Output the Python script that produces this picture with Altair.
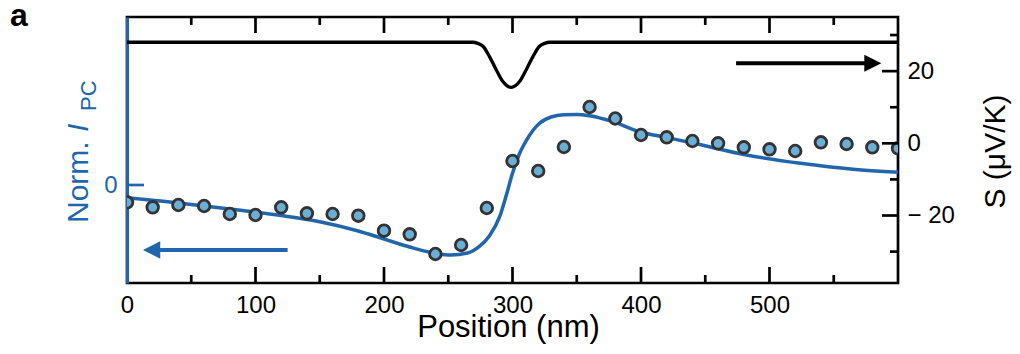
import altair as alt
import pandas as pd

FONT = "Liberation Sans"
BLUE = "#2166ac"
PT_FILL = "#6baed6"
PT_STROKE = "#333333"

# ---- data ----
pos_nm = [0, 20, 40, 60, 80, 100, 120, 140, 160, 180, 200, 220, 240, 260, 280,
          300, 320, 340, 360, 380, 400, 420, 440, 460, 480, 500, 520, 540, 560, 580, 600]
pc_norm = [-0.173, -0.223, -0.20, -0.21, -0.29, -0.30, -0.223, -0.283, -0.29, -0.307,
           -0.457, -0.493, -0.69, -0.60, -0.23, 0.24, 0.14, 0.38, 0.78, 0.665,
           0.50, 0.477, 0.44, 0.417, 0.377, 0.357, 0.34, 0.427, 0.41, 0.377, 0.367]

fit_x = [0, 30, 60, 90, 120, 150, 180, 200, 220, 240, 252, 265, 274, 282, 290, 295,
         300, 305, 311, 321, 330, 340, 350, 360, 378, 399, 420, 441, 482, 524, 565, 600]
fit_v = [-0.127, -0.165, -0.21, -0.255, -0.305, -0.367, -0.46, -0.54, -0.62, -0.683,
         -0.70, -0.68, -0.617, -0.51, -0.317, -0.11, 0.117, 0.30, 0.45, 0.617, 0.68,
         0.702, 0.705, 0.692, 0.633, 0.533, 0.475, 0.417, 0.30, 0.217, 0.157, 0.127]

seebeck_x = [0, 269, 273, 277, 282, 287.3, 292.5, 299, 305.5, 310.7, 316, 321, 325, 329, 600]
seebeck_s = [28.0, 28.0, 27.7, 26.9, 24.1, 20.4, 17.1, 15.5, 17.1, 20.4, 24.1, 26.9, 27.7, 28.0, 28.0]

x_tick_labels = [0, 100, 200, 300, 400, 500]
x_major = [100, 200, 300, 400, 500]
x_minor = [50, 150, 250, 350, 450, 550]
s_labels = [-20, 0, 20]
s_minor = [-30, -10, 10, 30]
pc_labels = [0]

blue_arrow_tail, blue_arrow_tip, blue_arrow_v = 125, 12.4, -0.65
black_arrow_tail, black_arrow_tip, black_arrow_s = 474, 587, 22.2

X_DOM = [0, 600]
PC_DOM = [-0.98, 1.68]
S_DOM = [-38.7, 35.0]
W, H = 771, 266

xs = alt.Scale(domain=X_DOM, nice=False, zero=False)
pcs = alt.Scale(domain=PC_DOM, nice=False, zero=False)
ss = alt.Scale(domain=S_DOM, nice=False, zero=False)

df_pts = pd.DataFrame({"x": pos_nm, "v": pc_norm})
df_fit = pd.DataFrame({"x": fit_x, "v": fit_v})
df_s = pd.DataFrame({"x": seebeck_x, "s": seebeck_s})

fit = alt.Chart(df_fit).mark_line(color=BLUE, strokeWidth=3.5, interpolate="monotone", clip=True).encode(
    x=alt.X("x:Q", scale=xs, axis=alt.Axis(
        orient="bottom", values=x_tick_labels, ticks=False, domain=False, grid=False, labelFontSize=24,
        labelPadding=10, labelColor="black", labelFlush=False, labelFont=FONT,
        title="Position (nm)", titleFontSize=31, titleFontWeight="normal", titleFont=FONT,
        titleColor="black", titleX=381, titleY=53, titleBaseline="alphabetic", titleAlign="center")),
    y=alt.Y("v:Q", scale=pcs, axis=alt.Axis(
        orient="left", values=pc_labels, ticks=False, grid=False, labelFontSize=24,
        labelColor=BLUE, labelPadding=10, labelFont=FONT, domainColor=BLUE, domainWidth=3,
        title=None)),
)

pts = alt.Chart(df_pts).mark_circle(size=135, fill=PT_FILL, fillOpacity=1, opacity=1,
                                    stroke=PT_STROKE, strokeWidth=2.8, clip=True).encode(
    x=alt.X("x:Q", scale=xs, axis=None),
    y=alt.Y("v:Q", scale=pcs, axis=None),
)

seeb = alt.Chart(df_s).mark_line(color="black", strokeWidth=3.3, interpolate="monotone", clip=True).encode(
    x=alt.X("x:Q", scale=xs, axis=None),
    y=alt.Y("s:Q", scale=ss, axis=alt.Axis(
        orient="right", values=s_labels, ticks=False, grid=False, domain=False,
        labelFontSize=24, labelPadding=9, labelColor="black", labelFont=FONT,
        labelExpr="datum.value < 0 ? '\u2212 ' + (-datum.value) : datum.label",
        title="S (\u03bcV/K)", titleFontSize=30, titleFontWeight="normal", titleFont=FONT,
        titleColor="black", titleAngle=270, titleX=106, titleY=134,
        titleAlign="center", titleBaseline="alphabetic")),
)


def xticks(vals, y0, y1):
    return alt.Chart(pd.DataFrame({"t": vals})).mark_rule(color="black", strokeWidth=2.7, strokeCap="butt").encode(
        x=alt.X("t:Q", scale=xs, axis=None), y=alt.value(y0), y2=alt.value(y1))


def sticks(vals, length):
    return alt.Chart(pd.DataFrame({"t": vals})).mark_rule(color="black", strokeWidth=2.7, strokeCap="butt").encode(
        y=alt.Y("t:Q", scale=ss, axis=None), x=alt.value(W), x2=alt.value(W - length))


pc_tick = alt.Chart(pd.DataFrame({"t": pc_labels})).mark_rule(color=BLUE, strokeWidth=2.7, strokeCap="butt").encode(
    y=alt.Y("t:Q", scale=pcs, axis=None), x=alt.value(0), x2=alt.value(17))

# arrows
df_barrow = pd.DataFrame({"x1": [blue_arrow_tail], "x2": [blue_arrow_tip + 6], "xt": [blue_arrow_tip], "v": [blue_arrow_v]})
barrow_line = alt.Chart(df_barrow).mark_rule(color=BLUE, strokeWidth=4).encode(
    x=alt.X("x1:Q", scale=xs, axis=None), x2="x2:Q", y=alt.Y("v:Q", scale=pcs, axis=None))
barrow_head = alt.Chart(df_barrow).mark_point(shape="M0,0L2,-1L2,1Z", size=300, filled=True,
                                              color=BLUE, opacity=1, strokeWidth=0).encode(
    x=alt.X("xt:Q", scale=xs, axis=None), y=alt.Y("v:Q", scale=pcs, axis=None))

df_karrow = pd.DataFrame({"x1": [black_arrow_tail], "x2": [black_arrow_tip - 6], "xt": [black_arrow_tip], "s": [black_arrow_s]})
karrow_line = alt.Chart(df_karrow).mark_rule(color="black", strokeWidth=4).encode(
    x=alt.X("x1:Q", scale=xs, axis=None), x2="x2:Q", y=alt.Y("s:Q", scale=ss, axis=None))
karrow_head = alt.Chart(df_karrow).mark_point(shape="M0,0L-2,-1L-2,1Z", size=289, filled=True,
                                              color="black", opacity=1, strokeWidth=0).encode(
    x=alt.X("xt:Q", scale=xs, axis=None), y=alt.Y("s:Q", scale=ss, axis=None))


def label(text, x, y, size, color="black", style="normal", weight="normal", angle=0):
    kw = dict(align="left", baseline="alphabetic", fontSize=size, color=color,
              font=FONT, fontStyle=style, fontWeight=weight)
    if angle:
        kw["angle"] = angle
    return alt.Chart(pd.DataFrame({"t": [text]})).mark_text(**kw).encode(
        x=alt.value(x), y=alt.value(y), text="t:N")


t_a = label("a", -117, 9, 32, weight="bold")
t_norm = label("Norm.", -38.7, 206, 30, color=BLUE, angle=270)
t_i = label("I", -38.7, 115, 30, color=BLUE, style="italic", angle=270)
t_pc = label("PC", -31, 94, 22, color=BLUE, angle=270)

chart = alt.layer(
    fit, seeb, pts,
    xticks(x_major, H, H - 16), xticks(x_minor, H, H - 8),
    xticks(x_major, 0, 16), xticks(x_minor, 0, 8),
    sticks(s_labels, 16), sticks(s_minor, 8), pc_tick,
    barrow_line, barrow_head, karrow_line, karrow_head,
    t_a, t_norm, t_i, t_pc,
).resolve_scale(y="independent").resolve_axis(x="independent").properties(
    width=W, height=H,
    autosize=alt.AutoSizeParams(type="none"),
    padding={"left": 119, "top": 9, "right": 114, "bottom": 63},
).configure_view(stroke="black", strokeWidth=2.7)

chart.save("out.html", embed_options={"renderer": "svg", "actions": False})
